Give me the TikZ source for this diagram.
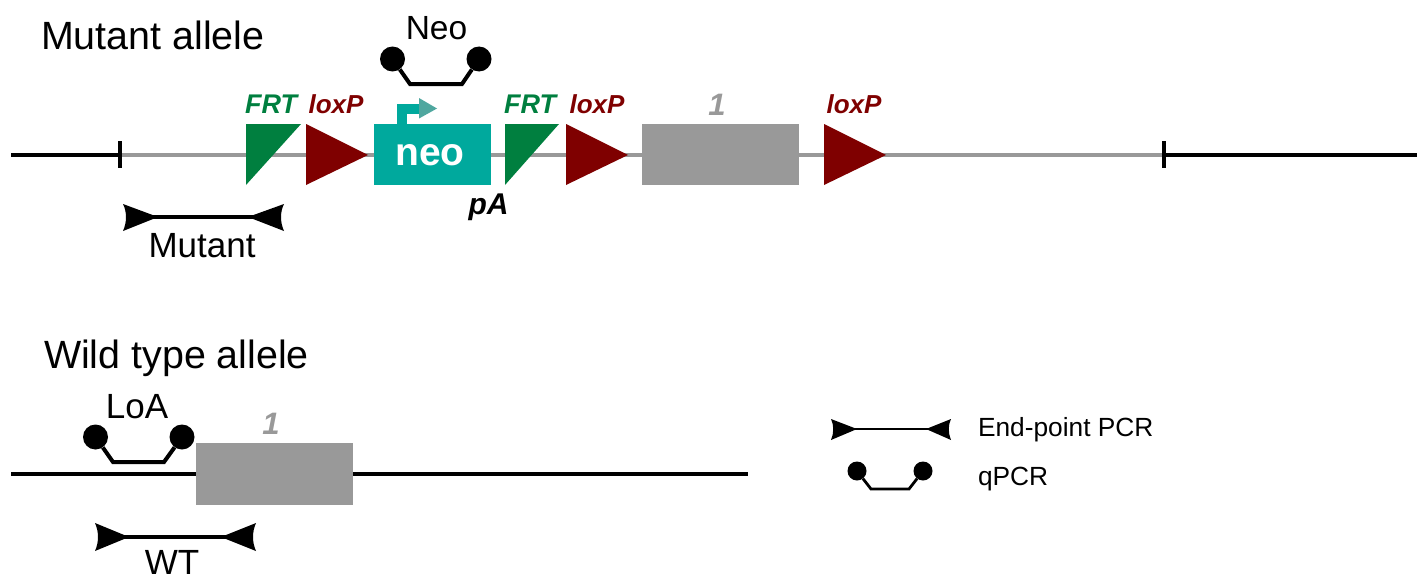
\documentclass[tikz,border=0pt]{standalone}
\usepackage{fontspec}
\setmainfont{Liberation Sans}
\definecolor{frtgreen}{HTML}{007F3F}
\definecolor{loxred}{HTML}{7F0000}
\definecolor{neoteal}{HTML}{00A99D}
\definecolor{promoarrow}{HTML}{4FA79F}
\definecolor{exongray}{HTML}{999999}
\newcommand{\fsz}[1]{\fontsize{#1}{#1}\selectfont}
\tikzset{
  lbl/.style={inner sep=0pt,outer sep=0pt,anchor=base,text=black},
  title/.style={lbl,font=\fsz{39.4}},
  primername/.style={lbl,font=\fsz{35}},
  legendtext/.style={lbl,anchor=base west,font=\fsz{26.3}},
  frtlabel/.style={lbl,text=frtgreen,font=\fsz{27}\bfseries\itshape},
  loxlabel/.style={lbl,text=loxred,font=\fsz{26}\bfseries\itshape},
  exonlabel/.style={lbl,text=exongray,font=\fsz{31}\bfseries\itshape},
  exon/.style={fill=exongray,draw=none},
  frt/.style={fill=frtgreen,draw=none},
  lox/.style={fill=loxred,draw=none},
  dna/.style={draw=black,line width=4pt},
  gene/.style={draw=exongray,line width=4pt},
  tick/.style={draw=black,line width=3.6pt},
  primer/.style={draw=black,line width=4pt,line join=miter},
  thinprimer/.style={draw=black,line width=2.8pt,line join=miter},
  bead/.style={circle,fill=black,draw=none,inner sep=0pt,minimum size=#1},
  bead/.default=25pt,
  tip/.style={fill=black,draw=none},
}
\begin{document}
\begin{tikzpicture}[x=1pt,y=-1pt]
\useasboundingbox (0,0) rectangle (1423,578);

% ---- Mutant allele backbone
\coordinate (mL) at (11,155);
\coordinate (mT1) at (120,155);
\coordinate (mT2) at (1164,155);
\coordinate (mR) at (1417,155);
\draw[gene] (mT1) -- (mT2);
\draw[dna] (mL) -- (mT1);
\draw[dna] (mT2) -- (mR);
\draw[tick] (120,141) -- (120,168);
\draw[tick] (1164,141) -- (1164,168);

% ---- Mutant allele elements
\fill[frt] (246,124) -- (301,124) -- (246,185) -- cycle;
\fill[lox] (306,124) -- (368,155) -- (306,185) -- cycle;
\fill[frt] (505,124) -- (559,124) -- (505,185) -- cycle;
\fill[lox] (566,124) -- (628,155) -- (566,185) -- cycle;
\fill[lox] (824,124) -- (886,155) -- (824,185) -- cycle;
\node[fill=neoteal,minimum width=117pt,minimum height=61pt,inner sep=0pt,anchor=north west] (neobox) at (374,124) {};
\node[exon,minimum width=157pt,minimum height=61pt,inner sep=0pt,anchor=north west] (exonM) at (642,124) {};
\draw[neoteal,line width=10pt] (402,125) -- (402,109) -- (420,109);
\fill[promoarrow] (419,98) -- (437,108.5) -- (419,118.5) -- cycle;

\node[lbl,text=white,font=\fsz{39}\bfseries] (neotext) at (430,165) {neo};
\node[frtlabel] (frt1) at (271,113) {FRT};
\node[loxlabel] (lox1) at (336,113) {loxP};
\node[frtlabel] (frt2) at (530,113) {FRT};
\node[loxlabel] (lox2) at (597,113) {loxP};
\node[loxlabel] (lox3) at (854,113) {loxP};
\node[exonlabel] (one1) at (717,115) {1};
\node[lbl,font=\fsz{30}\bfseries\itshape] (pa) at (488.5,214) {pA};

\node[title,anchor=base west] (mutanttitle) at (41,49) {Mutant allele};
\node[title,anchor=base west] (wttitle) at (44,368) {Wild type allele};

% ---- Neo qPCR
\node[primername,font=\fsz{33.5}] (neolabel) at (436.5,40) {Neo};
\node[bead] (nb1) at (392.5,59) {};
\node[bead] (nb2) at (479,59) {};
\coordinate (nk1) at (410,84);
\coordinate (nk2) at (462,84);
\draw[primer] (nb1) -- (nk1) -- (nk2) -- (nb2);

% ---- Mutant end-point
\coordinate (mp1) at (150,217);
\coordinate (mp2) at (256,217);
\draw[primer] (mp1) -- (mp2);
\fill[tip] (123,204) .. controls (127,212) and (127,222) .. (123,231) -- (158,217) -- cycle;
\fill[tip] (284,204) .. controls (280,212) and (280,222) .. (284,231) -- (248,217) -- cycle;
\node[primername] (mutantlabel) at (202,257) {Mutant};

% ---- Wild type allele
\coordinate (wL) at (11,473.5);
\coordinate (wR) at (748,473.5);
\draw[dna] (wL) -- (wR);
\node[exon,minimum width=157pt,minimum height=62pt,inner sep=0pt,anchor=north west] (exonW) at (196,443) {};
\node[exonlabel] (one2) at (271,434) {1};

\node[primername] (loalabel) at (137,418) {LoA};
\node[bead] (lb1) at (95.5,437) {};
\node[bead] (lb2) at (182,437) {};
\coordinate (lk1) at (113,462);
\coordinate (lk2) at (164,462);
\draw[primer] (lb1) -- (lk1) -- (lk2) -- (lb2);

\coordinate (wp1) at (121,537);
\coordinate (wp2) at (229,537);
\draw[primer] (wp1) -- (wp2);
\fill[tip] (95,523) .. controls (99,532) and (99,542) .. (95,551) -- (129,537) -- cycle;
\fill[tip] (256,523) .. controls (252,532) and (252,542) .. (256,551) -- (221,537) -- cycle;
\node[primername] (wtlabel) at (172,574) {WT};

% ---- Legend
\coordinate (ep1) at (851,429);
\coordinate (ep2) at (932,429);
\draw[thinprimer] (ep1) -- (ep2);
\fill[tip] (831,419) .. controls (834,425) and (834,433) .. (831,440) -- (857,429) -- cycle;
\fill[tip] (951,419) .. controls (948,425) and (948,433) .. (951,440) -- (926,429) -- cycle;
\node[legendtext] (eplabel) at (978,436) {End-point PCR};

\node[bead=19pt] (qb1) at (857,471) {};
\node[bead=19pt] (qb2) at (923,471) {};
\coordinate (qk1) at (871,489);
\coordinate (qk2) at (909,489);
\draw[thinprimer] (qb1) -- (qk1) -- (qk2) -- (qb2);
\node[legendtext] (qlabel) at (978,485) {qPCR};
\end{tikzpicture}
\end{document}
